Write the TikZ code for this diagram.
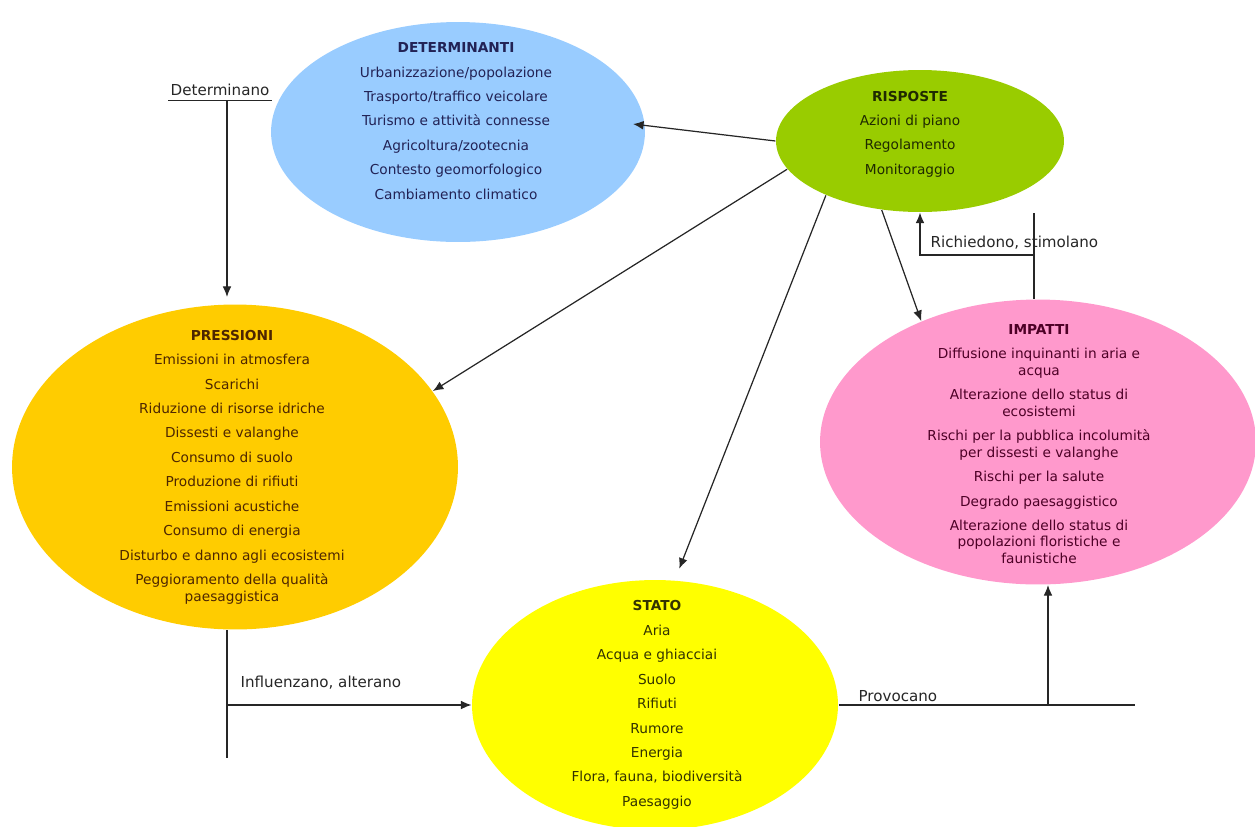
\documentclass[tikz,border=0pt]{standalone}
\usepackage{fontspec}
\setmainfont{DejaVu Sans}
\usepackage{xcolor}
\usepackage{tikz}
\usetikzlibrary{arrows.meta, shapes.geometric}

\definecolor{detfill}{HTML}{99CCFF}
\definecolor{rispfill}{HTML}{99CC00}
\definecolor{pressfill}{HTML}{FFCC00}
\definecolor{impfill}{HTML}{FF99CC}
\definecolor{statofill}{HTML}{FFFF00}
\definecolor{dettext}{HTML}{222255}
\definecolor{risptext}{HTML}{1F2A00}
\definecolor{presstext}{HTML}{4D2600}
\definecolor{imptext}{HTML}{4D0026}
\definecolor{statotext}{HTML}{333300}

\begin{document}
\begin{tikzpicture}[x=0.02cm, y=-0.02cm, >={Latex[length=6pt, width=5pt]}, line width=0.7pt, draw=black!85]
\tikzstyle{blob}=[ellipse, draw=none, inner sep=0pt]
\tikzstyle{items}=[align=center, inner sep=0pt, font=\fontsize{7.8}{9.4}\selectfont]
\tikzstyle{lbl}=[inner sep=0pt, text=black!85, font=\fontsize{8.6}{10}\selectfont]
\useasboundingbox (0,0) rectangle (1255,826);

\node[blob, fill=detfill, minimum width=7.48cm, minimum height=4.4cm] (det) at (458,132) {};
\node[blob, fill=rispfill, minimum width=5.76cm, minimum height=2.84cm] (risp) at (920,141) {};
\node[blob, fill=pressfill, minimum width=8.92cm, minimum height=6.5cm] (press) at (235,467) {};
\node[blob, fill=impfill, minimum width=8.72cm, minimum height=5.7cm] (imp) at (1038,442) {};
\node[blob, fill=statofill, minimum width=7.32cm, minimum height=5cm] (stato) at (655,705) {};

\node[items, text=dettext] (detlist) at (456,121) {\textbf{DETERMINANTI}\\[4.5pt]
  Urbanizzazione/popolazione\\[4.5pt] Trasporto/traffico veicolare\\[4.5pt]
  Turismo e attività connesse\\[4.5pt] Agricoltura/zootecnia\\[4.5pt]
  Contesto geomorfologico\\[4.5pt] Cambiamento climatico};
\node[items, text=risptext] (risplist) at (910,134) {\textbf{RISPOSTE}\\[4.5pt]
  Azioni di piano\\[4.5pt] Regolamento\\[4.5pt] Monitoraggio};
\node[items, text=presstext] (presslist) at (232,467) {\textbf{PRESSIONI}\\[4.5pt]
  Emissioni in atmosfera\\[4.5pt] Scarichi\\[4.5pt] Riduzione di risorse idriche\\[4.5pt]
  Dissesti e valanghe\\[4.5pt] Consumo di suolo\\[4.5pt] Produzione di rifiuti\\[4.5pt]
  Emissioni acustiche\\[4.5pt] Consumo di energia\\[4.5pt]
  Disturbo e danno agli ecosistemi\\[4.5pt] Peggioramento della qualità\\ paesaggistica};
\node[items, text=imptext] (implist) at (1039,444) {\textbf{IMPATTI}\\[4.5pt]
  Diffusione inquinanti in aria e\\ acqua\\[4.5pt]
  Alterazione dello status di\\ ecosistemi\\[4.5pt]
  Rischi per la pubblica incolumità\\ per dissesti e valanghe\\[4.5pt]
  Rischi per la salute\\[4.5pt] Degrado paesaggistico\\[4.5pt]
  Alterazione dello status di\\ popolazioni floristiche e\\ faunistiche};
\node[items, text=statotext] (statolist) at (657,705) {\textbf{STATO}\\[4.5pt]
  Aria\\[4.5pt] Acqua e ghiacciai\\[4.5pt] Suolo\\[4.5pt] Rifiuti\\[4.5pt]
  Rumore\\[4.5pt] Energia\\[4.5pt] Flora, fauna, biodiversità\\[4.5pt] Paesaggio};

% risposte verso gli altri
\path[->]
(risp.180) edge[shorten >=-7pt] (det.2)
(risp.192) edge (press.21)
(risp.210) edge[shorten >=7pt] (stato.81)
(risp.241) edge (imp.134);

% determinano
\node[lbl] (detlbl) at (220,90) {Determinano};
\draw[line width=0.6pt] ([shift={(-2,4)}]detlbl.south west) -- ([shift={(2,4)}]detlbl.south east);
\coordinate (ddrop) at ([shift={(7,4)}]detlbl.south);
\draw[->] (ddrop) -- ([yshift=4pt]ddrop |- press.north);

% influenzano
\coordinate (pfoot) at (227,758);
\draw (pfoot |- press.south) -- (pfoot);
\draw[->] (pfoot |- stato.west) -- (stato.west);
\node[lbl, anchor=base west] (inflbl) at (240,687) {Influenzano, alterano};

% provocano
\coordinate (pend) at (1135,705);
\coordinate (pup) at (1048,705);
\draw (stato.east) -- (pend);
\draw[->] (pup) -- (pup |- imp.south);
\node[lbl, anchor=base west] (provlbl) at (858,701) {Provocano};

% richiedono
\coordinate (rjoin) at (1034,255);
\draw (rjoin |- imp.north) -- (rjoin) -- ++(0,-42);
\draw[->] (rjoin) -| (risp.south);
\node[lbl, anchor=base west] (richlbl) at (930,247) {Richiedono, stimolano};

\end{tikzpicture}
\end{document}
